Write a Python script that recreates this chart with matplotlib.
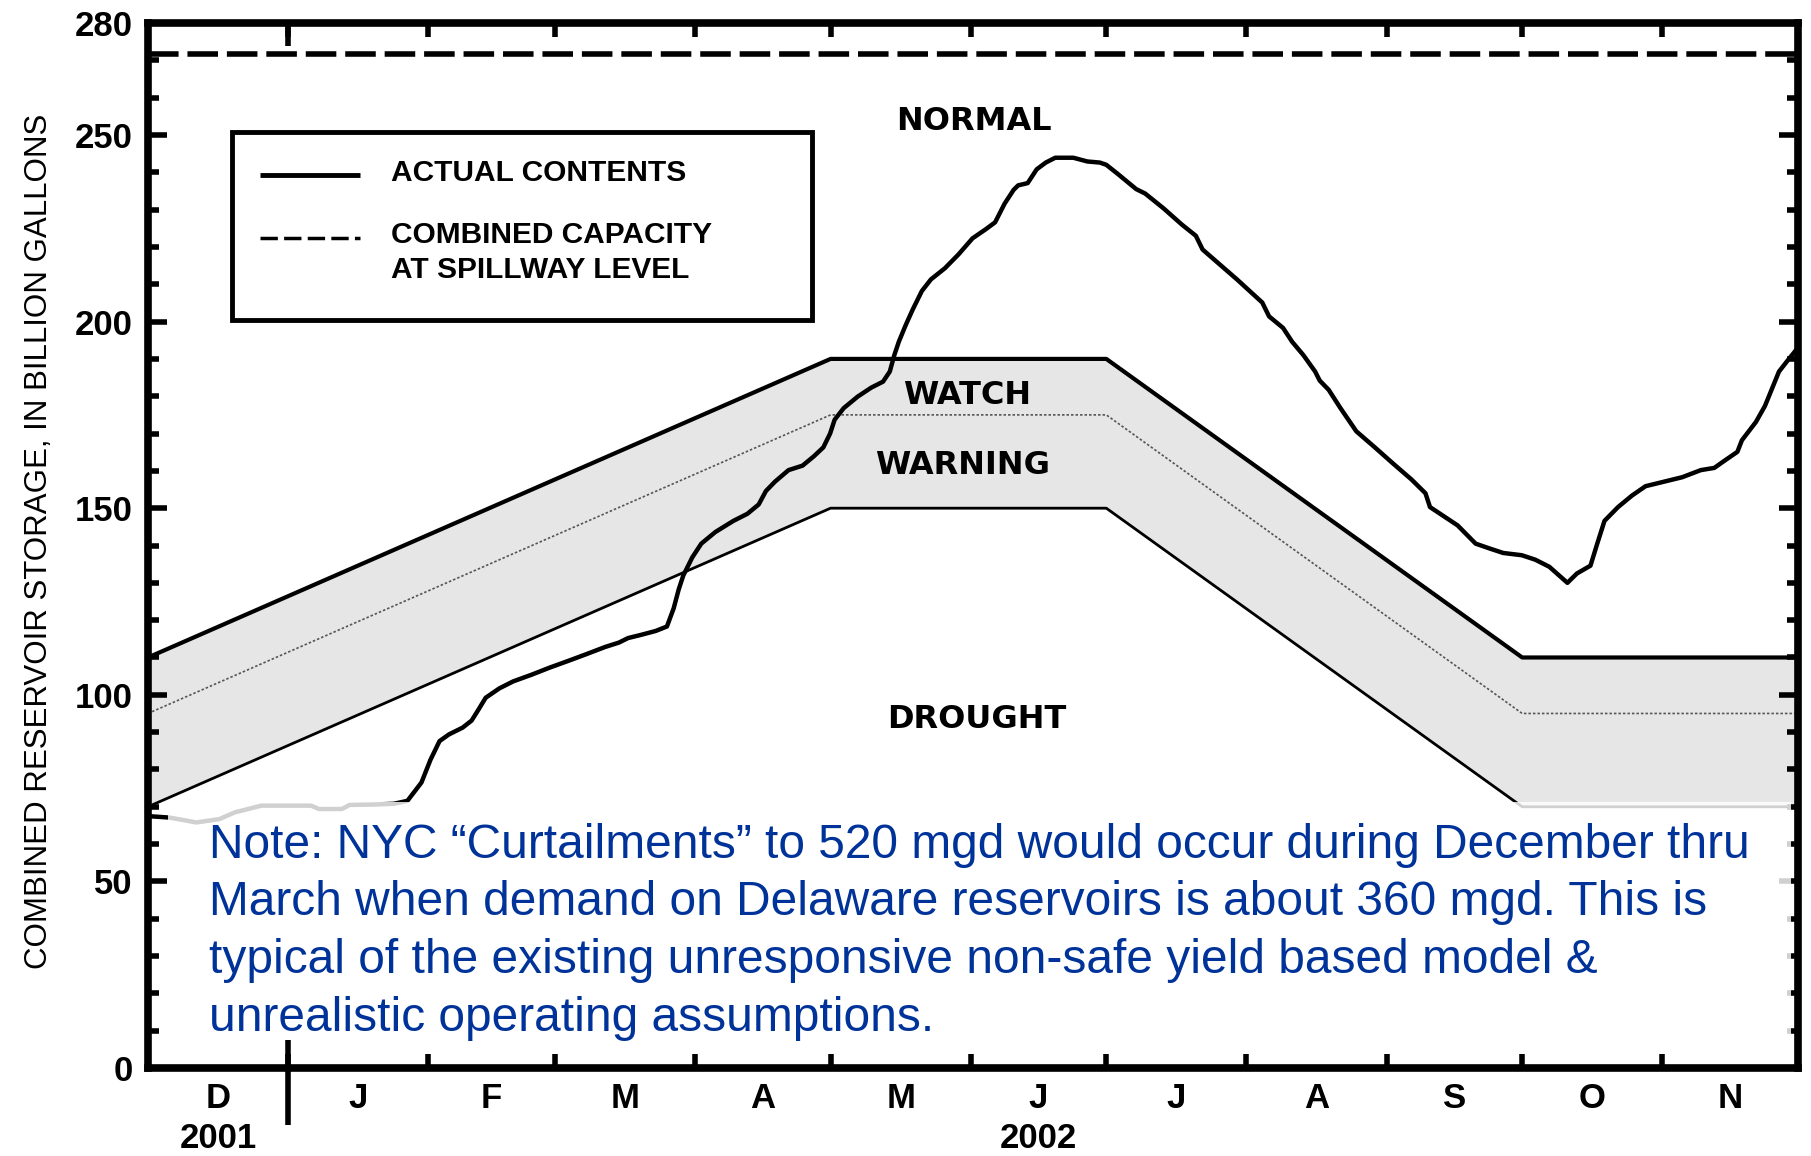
import matplotlib
matplotlib.use("Agg")
import matplotlib.pyplot as plt
from matplotlib.patches import Rectangle
from matplotlib.ticker import FixedLocator, FixedFormatter, NullFormatter, MultipleLocator

plt.rcParams['font.family'] = ['Liberation Sans', 'DejaVu Sans']

# --- Data (x = days since 1 Dec 2001, y = billion gallons) ---
days = [0, 4.8, 10.7, 15.8, 19.2, 25.1, 36.1, 37.8, 42.9, 44.6,
        50.0, 54.4, 57.4, 60.5, 62.5, 64.5, 66.6, 69.6, 71.6, 73.2,
        74.7, 77.7, 80.8, 84.9, 88.9, 93.0, 97.0, 101.1, 104.2, 106.2,
        109.2, 112.3, 114.8, 116.3, 117.4, 118.4, 120.4, 122.4, 125.5, 129.5,
        132.6, 135.1, 136.7, 138.7, 141.7, 144.8, 147.3, 149.4, 150.9, 151.9,
        153.9, 157.0, 160.0, 162.6, 164.1, 165.1, 166.1, 167.6, 169.2, 171.2,
        173.2, 176.3, 179.3, 182.4, 185.4, 187.4, 189.5, 191.5, 192.5, 194.6,
        196.6, 198.6, 200.7, 204.7, 207.8, 210.6, 212.0, 214.5, 218.6, 220.6,
        224.7, 228.7, 231.8, 233.3, 236.8, 240.9, 246.5, 248.0, 251.1, 253.1,
        255.6, 258.2, 259.2, 261.2, 263.8, 267.3, 271.4, 275.4, 279.5, 282.6,
        283.6, 286.6, 289.7, 293.7, 296.8, 299.8, 303.9, 306.9, 310.0, 314.0,
        316.1, 319.1, 320.6, 322.2, 325.2, 328.3, 331.3, 335.4, 339.4, 343.5,
        346.5, 348.6, 351.6, 352.6, 355.7, 357.7, 359.8, 360.8, 362.8, 365.0]
storage = [67.5, 67.1, 65.8, 66.7, 68.5, 70.3, 70.3, 69.4, 69.4, 70.5,
           70.6, 70.8, 71.6, 76.5, 82.6, 87.6, 89.4, 91.2, 93.1, 96.2,
           99.2, 101.7, 103.6, 105.4, 107.3, 109.1, 110.9, 112.8, 114.0, 115.2,
           116.1, 117.1, 118.3, 123.2, 128.2, 131.9, 136.8, 140.5, 143.6, 146.6,
           148.5, 151.0, 154.6, 157.1, 160.2, 161.4, 163.9, 166.3, 170.0, 173.7,
           176.8, 179.9, 182.3, 183.9, 186.6, 191.0, 194.6, 199.0, 203.3, 208.2,
           211.3, 214.3, 218.0, 222.3, 224.8, 226.6, 231.6, 235.3, 236.5, 237.1,
           240.8, 242.6, 243.9, 243.9, 242.9, 242.6, 242.0, 239.6, 235.5, 234.3,
           230.3, 226.0, 223.0, 219.3, 215.6, 211.3, 205.1, 201.4, 198.3, 194.6,
           191.0, 186.6, 184.2, 181.7, 176.8, 170.6, 166.3, 162.0, 157.7, 154.0,
           150.3, 147.9, 145.4, 140.5, 139.2, 138.0, 137.4, 136.2, 134.3, 130.0,
           132.5, 134.6, 140.5, 146.6, 150.3, 153.4, 155.9, 157.1, 158.3, 160.2,
           160.8, 162.6, 165.1, 168.2, 173.1, 177.4, 183.6, 186.6, 189.7, 193.0]

band_days = [0, 151, 212, 304, 365]
watch = [110, 190, 190, 110, 110]
warning = [95, 175, 175, 95, 95]
drought = [70, 150, 150, 70, 70]
capacity = 271.8

month_starts = [0, 31, 62, 90, 121, 151, 182, 212, 243, 274, 304, 335, 365]
month_labels = ['D', 'J', 'F', 'M', 'A', 'M', 'J', 'J', 'A', 'S', 'O', 'N']
year_labels = ['2001', '2002']
year_months = [0, 6]  # index of month the year label sits under

y_ticks = [0, 50, 100, 150, 200, 250, 280]

note_lines = [
    "Note: NYC \u201cCurtailments\u201d to 520 mgd would occur during December thru",
    "March when demand on Delaware reservoirs is about 360 mgd. This is",
    "typical of the existing unresponsive non-safe yield based model &",
    "unrealistic operating assumptions.",
]

month_mids = [(a + b) / 2 for a, b in zip(month_starts[:-1], month_starts[1:])]

# --- Plot ---
fig = plt.figure(figsize=(18.11, 11.56), dpi=100)
ax = fig.add_axes([0.0817, 0.0761, 0.9111, 0.9040])

ax.fill_between(band_days, drought, watch, color='#e6e6e6', lw=0, zorder=1)
ax.plot(band_days, watch, color='black', lw=3, zorder=2)
ax.plot(band_days, warning, color='#555555', lw=1.2, ls=(0, (1.5, 1.2)), zorder=2)
ax.plot(band_days, drought, color='black', lw=2, zorder=2)
ax.axhline(capacity, color='black', lw=4, dashes=(5.5, 1.6), zorder=2)
ax.plot(days, storage, color='black', lw=3.2, zorder=3, solid_joinstyle='round')

# white note box laid over the lower part of the chart (lines behind show faintly)
ax.add_patch(Rectangle((4.5, 4), 359, 67.3, facecolor='white', edgecolor='none',
                       alpha=0.82, zorder=4))
note_base = [56.3, 40.9, 25.4, 10.0]
for line, yb in zip(note_lines, note_base):
    ax.text(13.5, yb, line, fontsize=34.5, color='#003399', va='baseline', ha='left', zorder=5)

# legend box
ax.add_patch(Rectangle((18.6, 200.3), 128.3, 50.4, fill=False, lw=3.5, edgecolor='black', zorder=5))
ax.plot([24.8, 46.9], [239.4, 239.4], color='black', lw=3.5, zorder=5, solid_capstyle='butt')
ax.plot([24.8, 46.9], [222.5, 222.5], color='black', lw=2.5, dashes=(5, 1.8), zorder=5)
leg_kw = dict(fontsize=21.5, weight='bold', va='center', ha='left', zorder=5)
ax.text(53.8, 239.9, "ACTUAL CONTENTS", **leg_kw)
ax.text(53.8, 223.1, "COMBINED CAPACITY", **leg_kw)
ax.text(53.8, 213.7, "AT SPILLWAY LEVEL", **leg_kw)

# zone labels
zone_kw = dict(family='DejaVu Sans', weight='bold', fontsize=23, ha='center', va='center', zorder=5)
ax.text(182.7, 253.5, "NORMAL", **zone_kw)
ax.text(181.3, 180.1, "WATCH", **zone_kw)
ax.text(180.3, 161.4, "WARNING", **zone_kw)
ax.text(183.4, 93.5, "DROUGHT", **zone_kw)

# axes & ticks
ax.set_xlim(0, 365)
ax.set_ylim(0, 280)
for s in ax.spines.values():
    s.set_linewidth(5.5)

ax.xaxis.set_major_locator(FixedLocator(month_starts[1:-1]))
ax.xaxis.set_major_formatter(NullFormatter())
ax.xaxis.set_minor_locator(FixedLocator(month_mids))
ax.xaxis.set_minor_formatter(FixedFormatter(month_labels))
ax.tick_params(axis='x', which='major', direction='in', length=10, width=4, top=True, bottom=True)
ax.tick_params(axis='x', which='minor', length=0, pad=10)

ax.set_yticks(y_ticks)
ax.set_yticklabels([str(v) for v in y_ticks])
ax.yaxis.set_minor_locator(MultipleLocator(10))
ax.tick_params(axis='y', which='major', direction='in', length=14, width=4,
               left=True, right=True, pad=11)
ax.tick_params(axis='y', which='minor', direction='in', length=8, width=4, left=True, right=True)

for lab in ax.get_xticklabels(minor=True) + ax.get_yticklabels():
    lab.set_fontsize(25)
    lab.set_fontweight('bold')

# year divider tick at 1 Jan, longer on both sides
xt = ax.get_xaxis_transform()
ax.plot([month_starts[1]] * 2, [-0.0545, 0.027], transform=xt, clip_on=False,
        color='black', lw=4, solid_capstyle='butt', zorder=6)
ax.plot([month_starts[1]] * 2, [0.978, 1.0], transform=xt, clip_on=False,
        color='black', lw=4, solid_capstyle='butt', zorder=6)
for lab, mi in zip(year_labels, year_months):
    ax.text(month_mids[mi], -0.067, lab, transform=xt, ha='center', va='center',
            fontsize=25, weight='bold')

ax.set_ylabel("COMBINED RESERVOIR STORAGE, IN BILLION GALLONS", fontsize=22.5)
ax.yaxis.set_label_coords(-0.057, 0.504)

fig.savefig("out.png", dpi=100)
